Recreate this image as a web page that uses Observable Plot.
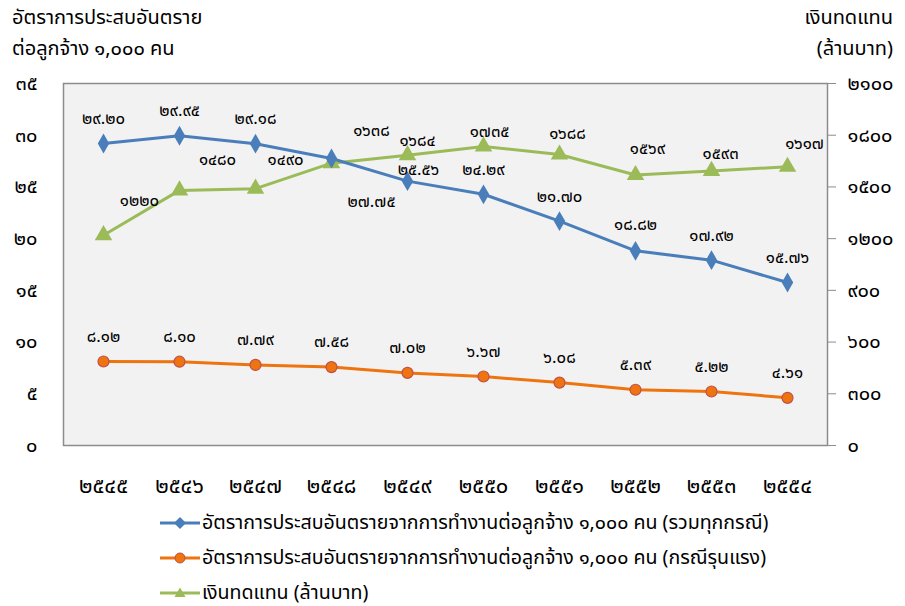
<!DOCTYPE html>
<html><head><meta charset="utf-8">
<script src="https://cdn.jsdelivr.net/npm/d3@7"></script>
<script src="https://cdn.jsdelivr.net/npm/@observablehq/plot@0.6"></script>
<style>
body{margin:0;background:#fff;}
#wrap{position:relative;width:905px;height:606px;font-family:"Noto Sans Thai","Tahoma","DejaVu Sans",sans-serif;color:#000;}
.t{position:absolute;font-size:20px;line-height:31px;white-space:nowrap;}
#chart{position:absolute;left:0;top:70px;}
#legend{position:absolute;left:160px;top:505px;font-size:19.6px;}
.row{display:flex;align-items:center;height:35px;white-space:nowrap;}
.row svg{margin-right:2px;}
</style></head><body>
<div id="wrap">
  <div class="t" style="left:12px;top:3px;">อัตราการประสบอันตราย<br>ต่อลูกจ้าง ๑,๐๐๐ คน</div>
  <div class="t" style="right:12px;top:3px;text-align:right;">เงินทดแทน<br>(ล้านบาท)</div>
  <div id="chart"></div>
  <div id="legend"></div>
</div>
<script>
const years = ["2545","2546","2547","2548","2549","2550","2551","2552","2553","2554"];
const rateAll = [29.20, 29.95, 29.18, 27.75, 25.56, 24.29, 21.70, 18.82, 17.92, 15.76];
const rateSevere = [8.12, 8.10, 7.79, 7.58, 7.02, 6.67, 6.08, 5.39, 5.22, 4.61];
const compensation = [1220, 1480, 1490, 1638, 1684, 1735, 1688, 1569, 1593, 1617];
const leftTicks = [0, 5, 10, 15, 20, 25, 30, 35];
const rightTicks = [0, 300, 600, 900, 1200, 1500, 1800, 2100];
const seriesNames = [
  "อัตราการประสบอันตรายจากการทำงานต่อลูกจ้าง ๑,๐๐๐ คน (รวมทุกกรณี)",
  "อัตราการประสบอันตรายจากการทำงานต่อลูกจ้าง ๑,๐๐๐ คน (กรณีรุนแรง)",
  "เงินทดแทน (ล้านบาท)"
];

// label nudges (pixels)
const blueNudge = [[0,-25],[0,-25],[0,-25],[40,43],[11,-12],[0,-25],[0,-24],[0,-26],[0,-25],[0,-25]];
const greenNudge = [[36,-35],[38,-31],[30,-29],[40,-33],[10,-15],[6,-15],[8,-21],[12,-26],[9,-17],[17,-23]];

const ratio = 2100 / 35; // right axis to left axis
const thaiDigits = "๐๑๒๓๔๕๖๗๘๙";
const thai = s => String(s).replace(/[0-9]/g, d => thaiDigits[+d]);

const blue = "#4a7ebb", orange = "#ee7410", orangeEdge = "#c0504d", green = "#9bbb59";

const dAll = years.map((y,i)=>({year:y, v:rateAll[i], i}));
const dSev = years.map((y,i)=>({year:y, v:rateSevere[i], i}));
const dComp = years.map((y,i)=>({year:y, v:compensation[i]/ratio, raw:compensation[i], i}));

const fs = 16.8;
const font = "'Noto Sans Thai','Tahoma','DejaVu Sans',sans-serif";

const blueLabels = dAll.map((d,i)=>Plot.text([d], {x:"year", y:"v", text:d=>thai(d.v.toFixed(2)), dx:blueNudge[i][0], dy:blueNudge[i][1], fontSize:fs, fill:"#000"}));
const greenLabels = dComp.map((d,i)=>Plot.text([d], {x:"year", y:"v", text:d=>thai(d.raw), dx:greenNudge[i][0], dy:greenNudge[i][1], fontSize:fs, fill:"#000"}));

const chart = Plot.plot({
  width: 905,
  height: 435,
  marginTop: 13,
  marginBottom: 60,
  marginLeft: 63,
  marginRight: 78,
  style: {fontFamily: font, background: "transparent", overflow: "visible"},
  x: {type: "point", domain: years, padding: 0.5},
  y: {domain: [0, 35]},
  marks: [
    Plot.frame({fill: "#f2f2f2", stroke: "#8c8c8c", strokeWidth: 1.5}),
    Plot.axisX({tickSize: 0, tickPadding: 32, fontSize: 22, tickFormat: thai, label: null}),
    Plot.axisY({ticks: leftTicks, tickSize: 0, tickPadding: 26, fontSize: 20, tickFormat: thai, label: null}),
    Plot.axisY({anchor: "right", ticks: rightTicks.map(v=>v/ratio), tickFormat: v=>thai(Math.round(v*ratio)), tickSize: 8, tickPadding: 12, stroke: "#8c8c8c", fontSize: 20, label: null}),
    Plot.line(dComp, {x:"year", y:"v", stroke: green, strokeWidth: 3}),
    Plot.line(dAll, {x:"year", y:"v", stroke: blue, strokeWidth: 3}),
    Plot.line(dSev, {x:"year", y:"v", stroke: orange, strokeWidth: 3}),
    Plot.dot(dComp, {x:"year", y:"v", symbol:"triangle", r:6.5, fill: green}),
    Plot.dot(dAll, {x:"year", y:"v", symbol:"diamond", r:6, fill: blue}),
    Plot.dot(dSev, {x:"year", y:"v", symbol:"circle", r:5.5, fill: orange, stroke: orangeEdge, strokeWidth: 1.2}),
    ...blueLabels,
    Plot.text(dSev, {x:"year", y:"v", text:d=>thai(d.v.toFixed(2)), dy:-25, fontSize:fs, fill:"#000"}),
    ...greenLabels
  ]
});
document.getElementById("chart").appendChild(chart);

// legend
const sym = [
  `<path d="M20,1 L26,7 L20,13 L14,7 Z" fill="${blue}"/>`,
  `<circle cx="20" cy="7" r="5" fill="${orange}" stroke="${orangeEdge}" stroke-width="1"/>`,
  `<path d="M20,1.5 L25.5,11 L14.5,11 Z" fill="${green}"/>`
];
const cols = [blue, orange, green];
const leg = document.getElementById("legend");
seriesNames.forEach((name, i) => {
  const row = document.createElement("div");
  row.className = "row";
  row.innerHTML = `<svg width="40" height="14"><line x1="0" y1="7" x2="40" y2="7" stroke="${cols[i]}" stroke-width="3"/>${sym[i]}</svg><span>${name}</span>`;
  leg.appendChild(row);
});
</script>
</body></html>
